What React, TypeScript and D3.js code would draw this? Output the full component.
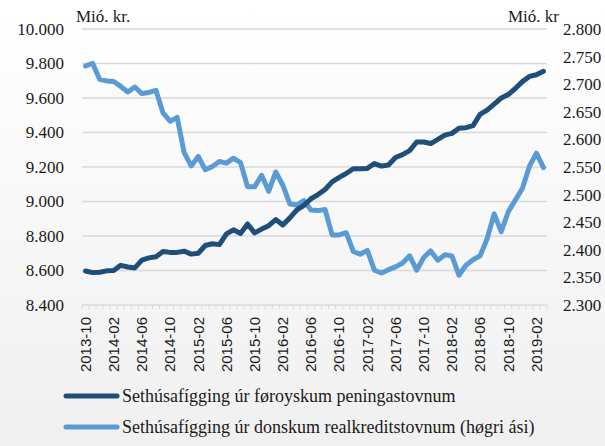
import React from "react";
import * as d3 from "d3";

const startYear = 2013;
const startMonth = 10;
const monthCount = 66;
const months: string[] = Array.from({ length: monthCount }, (_, i) => {
  const m = startMonth - 1 + i;
  const y = startYear + Math.floor(m / 12);
  const mm = (m % 12) + 1;
  return `${y}-${mm < 10 ? "0" + mm : mm}`;
});

const faroeseBanks: number[] = [
  8597, 8588, 8590, 8598, 8600, 8630, 8620, 8615, 8660, 8673, 8680, 8710,
  8705, 8705, 8712, 8695, 8700, 8745, 8755, 8750, 8812, 8836, 8815, 8870,
  8818, 8840, 8860, 8895, 8864, 8905, 8952, 8978, 9016, 9040, 9070, 9114,
  9140, 9162, 9190, 9190, 9192, 9220, 9205, 9212, 9255, 9272, 9295, 9345,
  9345, 9336, 9360, 9385, 9395, 9425, 9428, 9440, 9505, 9530, 9565, 9600,
  9620, 9655, 9695, 9725, 9735, 9755,
];

const danishMortgage: number[] = [
  2733, 2738, 2709, 2706, 2705, 2696, 2686, 2695, 2683, 2685, 2689, 2648,
  2633, 2640, 2576, 2552, 2569, 2545, 2551, 2560, 2557, 2566, 2558, 2514,
  2514, 2535, 2506, 2541, 2517, 2483, 2481, 2489, 2472, 2471, 2473, 2427,
  2427, 2431, 2397, 2392, 2399, 2363, 2358, 2364, 2369, 2376, 2389, 2363,
  2386, 2398, 2381, 2391, 2389, 2354, 2372, 2382, 2389, 2420, 2465, 2433,
  2469, 2490, 2511, 2551, 2575, 2549,
];

const leftTicks: number[] = [8400, 8600, 8800, 9000, 9200, 9400, 9600, 9800, 10000];
const rightTicks: number[] = [2300, 2350, 2400, 2450, 2500, 2550, 2600, 2650, 2700, 2750, 2800];
const labelEvery = 4;

const seriesNames = [
  "Sethúsafígging úr føroyskum peningastovnum",
  "Sethúsafígging úr donskum realkreditstovnum (høgri ási)",
];
const leftUnit = "Mió. kr.";
const rightUnit = "Mió. kr";

const W = 605;
const H = 446;
const plotLeft = 82;
const plotRight = 547;
const plotTop = 29;
const plotBottom = 305;

const fmt = (v: number) => {
  const s = String(v);
  return s.length > 3 ? s.slice(0, s.length - 3) + "." + s.slice(s.length - 3) : s;
};

export default function App() {
  const x = d3.scaleBand<string>().domain(months).range([plotLeft, plotRight]).padding(0);
  const yL = d3.scaleLinear().domain([8400, 10000]).range([plotBottom, plotTop]);
  const yR = d3.scaleLinear().domain([2300, 2800]).range([plotBottom, plotTop]);
  const cx = (m: string) => (x(m) as number) + x.bandwidth() / 2;

  const lineL = d3
    .line<number>()
    .x((_, i) => cx(months[i]))
    .y((d) => yL(d));
  const lineR = d3
    .line<number>()
    .x((_, i) => cx(months[i]))
    .y((d) => yR(d));

  const serif = "'Liberation Serif', 'Times New Roman', serif";
  const sans = "'Liberation Sans', Arial, sans-serif";
  const dark = "#1f4e79";
  const light = "#5b9bd5";
  const grid = "#d9d9d9";

  const boundaries = d3.range(monthCount + 1).map((i) => plotLeft + i * x.bandwidth());

  return (
    <svg
      width={W}
      height={H}
      style={{ position: "absolute", left: 0, top: 0 }}
      xmlns="http://www.w3.org/2000/svg"
    >
      <defs>
        <linearGradient id="bg" x1="0" y1="0" x2="0" y2="1">
          <stop offset="0" stopColor="#ffffff" />
          <stop offset="1" stopColor="#f0f0f0" />
        </linearGradient>
      </defs>
      <rect x={0} y={0} width={W} height={H} fill="url(#bg)" />

      {leftTicks.map((t) => (
        <line
          key={"g" + t}
          x1={plotLeft}
          x2={plotRight}
          y1={yL(t)}
          y2={yL(t)}
          stroke={grid}
          strokeWidth={1.5}
        />
      ))}
      {boundaries.map((bx, i) => (
        <line
          key={"t" + i}
          x1={bx}
          x2={bx}
          y1={plotBottom}
          y2={plotBottom + 4}
          stroke={grid}
          strokeWidth={1}
        />
      ))}

      {leftTicks.map((t) => (
        <text
          key={"l" + t}
          x={64}
          y={yL(t)}
          dy="0.35em"
          textAnchor="end"
          fontFamily={serif}
          fontSize={17}
          fill="#1a1a1a"
        >
          {fmt(t)}
        </text>
      ))}
      {rightTicks.map((t) => (
        <text
          key={"r" + t}
          x={563}
          y={yR(t)}
          dy="0.35em"
          textAnchor="start"
          fontFamily={serif}
          fontSize={17}
          fill="#1a1a1a"
        >
          {fmt(t)}
        </text>
      ))}
      <text x={76} y={22} fontFamily={serif} fontSize={17} fill="#1a1a1a">
        {leftUnit}
      </text>
      <text x={559} y={22} textAnchor="end" fontFamily={serif} fontSize={17} fill="#1a1a1a">
        {rightUnit}
      </text>

      {months.map((m, i) =>
        i % labelEvery === 0 ? (
          <text
            key={"x" + m}
            transform={`translate(${cx(m)},${plotBottom + 12}) rotate(-90)`}
            dy="0.35em"
            textAnchor="end"
            fontFamily={sans}
            fontSize={15}
            fill="#1a1a1a"
          >
            {m}
          </text>
        ) : null
      )}

      <path
        d={lineR(danishMortgage) || ""}
        fill="none"
        stroke={light}
        strokeWidth={5}
        strokeLinejoin="round"
        strokeLinecap="round"
      />
      <path
        d={lineL(faroeseBanks) || ""}
        fill="none"
        stroke={dark}
        strokeWidth={5}
        strokeLinejoin="round"
        strokeLinecap="round"
      />

      {seriesNames.map((name, i) => (
        <g key={name} transform={`translate(0,${396 + i * 31})`}>
          <line
            x1={66}
            x2={117}
            y1={0}
            y2={0}
            stroke={i === 0 ? dark : light}
            strokeWidth={5}
            strokeLinecap="round"
          />
          <text x={122} y={0} dy="0.35em" fontFamily={serif} fontSize={18} fill="#1a1a1a">
            {name}
          </text>
        </g>
      ))}
    </svg>
  );
}
